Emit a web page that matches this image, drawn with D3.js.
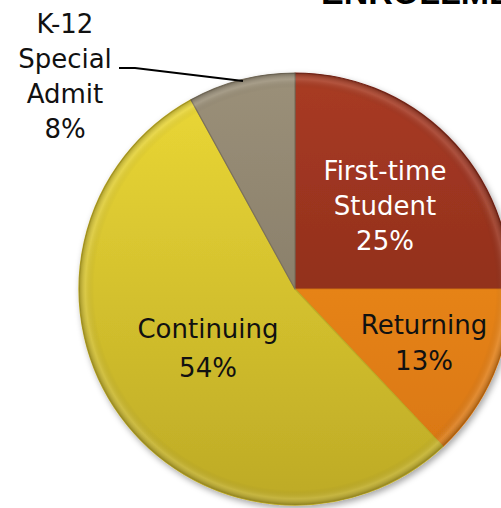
<!DOCTYPE html>
<html>
<head>
<meta charset="utf-8">
<script src="https://cdn.jsdelivr.net/npm/d3@7"></script>
<style>
  body { margin: 0; background: #fff; }
  svg { display: block; }
</style>
</head>
<body>
<div id="vis"></div>
<script>
////////data//////////////////////////////////////////////
const categories = ["First-time Student", "Returning", "Continuing", "K-12 Special Admit"];
const values = [25, 13, 54, 8];
const topColors = ["#a93b23", "#f6921f", "#ecd936", "#9b9079"];
const bottomColors = ["#7c2517", "#d6740f", "#bdaa26", "#7a705d"];
const textColors = ["#ffffff", "#111111", "#111111", "#111111"];

////////setting up////////////////////////////////////////
var width = 501
var height = 508
const cx = 295, cy = 289, radius = 216;

const svg = d3.select("#vis")
  .append("svg")
  .attr("width", width)
  .attr("height", height)
  .attr("font-family", "'DejaVu Sans', sans-serif");

const defs = svg.append("defs");

// soft shadow around the pie
const shadow = defs.append("filter").attr("id", "shadow")
  .attr("x", "-10%").attr("y", "-10%").attr("width", "120%").attr("height", "120%");
shadow.append("feDropShadow")
  .attr("dx", 2).attr("dy", 3).attr("stdDeviation", 3)
  .attr("flood-color", "#000").attr("flood-opacity", 0.35);

// vertical gradient per slice (coords are in the translated pie group)
categories.forEach((c, i) => {
  const g = defs.append("linearGradient")
    .attr("id", "grad" + i)
    .attr("gradientUnits", "userSpaceOnUse")
    .attr("x1", 0).attr("y1", -radius)
    .attr("x2", 0).attr("y2", radius);
  g.append("stop").attr("offset", "0%").attr("stop-color", topColors[i]);
  g.append("stop").attr("offset", "100%").attr("stop-color", bottomColors[i]);
});

// rim shading for the bevel look
const rim = defs.append("radialGradient").attr("id", "rim")
  .attr("gradientUnits", "userSpaceOnUse")
  .attr("cx", 0).attr("cy", 0).attr("r", radius);
rim.append("stop").attr("offset", "0%").attr("stop-color", "#000").attr("stop-opacity", 0);
rim.append("stop").attr("offset", "93%").attr("stop-color", "#000").attr("stop-opacity", 0);
rim.append("stop").attr("offset", "97%").attr("stop-color", "#fff").attr("stop-opacity", 0.12);
rim.append("stop").attr("offset", "100%").attr("stop-color", "#000").attr("stop-opacity", 0.25);

////////title (cut off at the top)///////////////////////
svg.append("text")
  .attr("x", 321)
  .attr("y", 4)
  .attr("font-family", "'Liberation Sans', Arial, sans-serif")
  .attr("font-weight", "bold")
  .attr("font-size", 34)
  .attr("fill", "#000")
  .text("ENROLLMENT STATUS");

////////pie//////////////////////////////////////////////
const pie = d3.pie().sort(null).value(d => d.value);
const data = pie(categories.map((c, i) => ({ name: c, value: values[i], i: i })));
const arc = d3.arc().innerRadius(0).outerRadius(radius);

const g = svg.append("g").attr("transform", `translate(${cx},${cy})`);

g.append("g").attr("filter", "url(#shadow)")
  .selectAll("path")
  .data(data)
  .join("path")
  .attr("d", arc)
  .attr("fill", d => `url(#grad${d.data.i})`)
  .attr("stroke", d => bottomColors[d.data.i])
  .attr("stroke-width", 1.2)
  .attr("stroke-linejoin", "round");

g.append("circle")
  .attr("r", radius)
  .attr("fill", "url(#rim)");

////////labels///////////////////////////////////////////
const labelLines = [
  ["First-time", "Student", "25%"],
  ["Returning", "13%"],
  ["Continuing", "54%"],
  ["K-12", "Special", "Admit", "8%"]
];
// label anchor (first baseline) and line spacing
const labelPos = [[385, 180, 35], [424, 334, 36], [208, 338, 39], [65, 33, 35]];

labelLines.forEach((lines, i) => {
  const t = svg.append("text")
    .attr("text-anchor", "middle")
    .attr("font-size", 26)
    .attr("fill", textColors[i]);
  lines.forEach((l, k) => {
    t.append("tspan")
      .attr("x", labelPos[i][0])
      .attr("y", labelPos[i][1] + k * labelPos[i][2])
      .text(l);
  });
});

// leader line for K-12
svg.append("path")
  .attr("d", d3.line()([[119, 68], [135, 68], [243, 81]]))
  .attr("fill", "none")
  .attr("stroke", "#000")
  .attr("stroke-width", 1.8);
</script>
</body>
</html>
